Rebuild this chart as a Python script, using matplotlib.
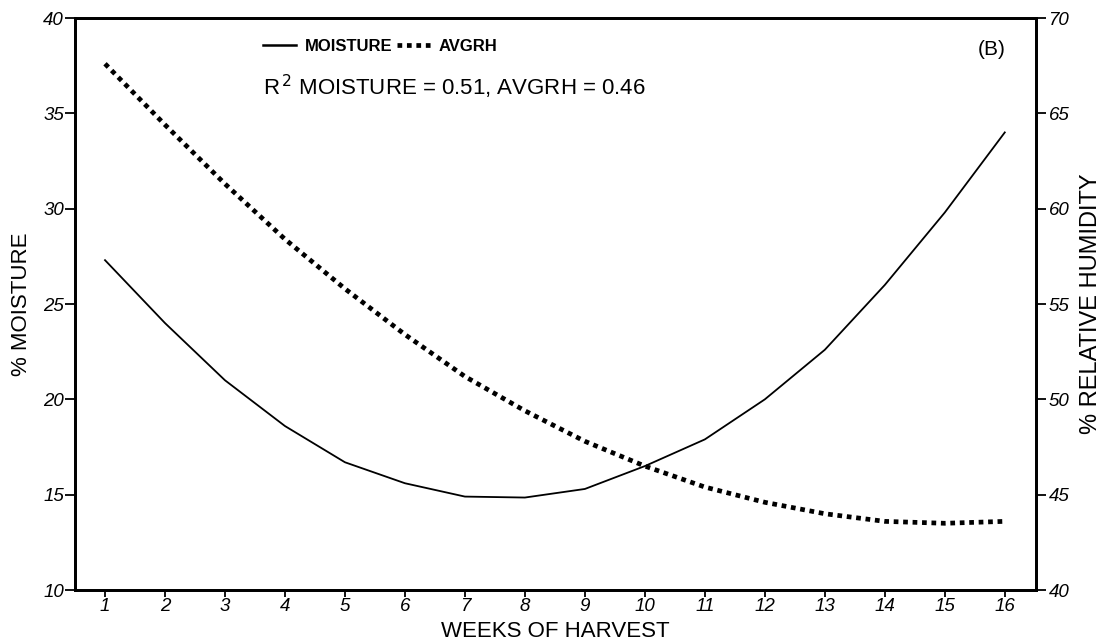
import matplotlib
matplotlib.use("Agg")
import matplotlib.pyplot as plt
from matplotlib.lines import Line2D

plt.rcParams["font.family"] = ["Liberation Sans", "DejaVu Sans"]

# ── Data ─────────────────────────────────────────────────────────────────────
weeks = list(range(1, 17))
moisture = [27.3, 24.0, 21.0, 18.6, 16.7, 15.6, 14.9, 14.85,
            15.3, 16.5, 17.9, 20.0, 22.6, 26.0, 29.8, 34.0]
avgrh = [67.6, 64.4, 61.3, 58.4, 55.8, 53.4, 51.2, 49.4,
         47.8, 46.5, 45.4, 44.6, 44.0, 43.6, 43.5, 43.6]
left_ticks = [10, 15, 20, 25, 30, 35, 40]
right_ticks = [40, 45, 50, 55, 60, 65, 70]

fig = plt.figure(figsize=(11.13, 6.43), dpi=100)
fig.patch.set_facecolor("white")
ax = fig.add_axes([0.0674, 0.0824, 0.8634, 0.8896])
ax2 = ax.twinx()

ax.plot(weeks, moisture, color="black", linewidth=1.3)
ax2.plot(weeks, avgrh, color="black", linewidth=3.4, linestyle=(0, (1, 1)))

ax.set_xlim(0.5, 16.52)
ax.set_ylim(10, 40)
ax2.set_ylim(40, 70)
ax.set_xticks(weeks)
ax.set_yticks(left_ticks)
ax2.set_yticks(right_ticks)

tick_font = dict(fontsize=13.5, fontstyle="italic")
ax.set_xticklabels([str(w) for w in weeks], **tick_font)
ax.set_yticklabels([str(t) for t in left_ticks], **tick_font)
ax2.set_yticklabels([str(t) for t in right_ticks], **tick_font)

ax.tick_params(axis="y", direction="out", length=7, width=1.3, pad=1)
ax.tick_params(axis="x", direction="out", length=5, width=1.3, pad=1)
ax2.tick_params(axis="y", direction="out", length=7, width=1.3, pad=2)

for a in (ax, ax2):
    for spine in a.spines.values():
        spine.set_linewidth(2)
        spine.set_color("black")

ax.set_xlabel("WEEKS OF HARVEST", fontsize=16, labelpad=4)
ax.set_ylabel("% MOISTURE", fontsize=16, labelpad=8)
ax2.set_ylabel("% RELATIVE HUMIDITY", fontsize=17, labelpad=8)

# ── Legend & annotations ─────────────────────────────────────────────────────
handles = [Line2D([], [], color="black", linewidth=1.8),
           Line2D([], [], color="black", linewidth=3.4, linestyle=(0, (1, 1)))]
leg = ax.legend(handles, ["MOISTURE", "AVGRH"], ncol=2, frameon=False,
                loc="upper left", bbox_to_anchor=(0.18, 0.99),
                prop=dict(size=12, weight="bold"), handlelength=2.0,
                handletextpad=0.5, columnspacing=0.3, borderaxespad=0.5)

ax.text(0.196, 0.88, r"R$^{\,2}$ MOISTURE = 0.51, AVGRH = 0.46",
        transform=ax.transAxes, fontsize=16, va="center", ha="left")
ax.text(0.968, 0.945, "(B)", transform=ax.transAxes, fontsize=15,
        va="center", ha="right")

fig.savefig("out.png", dpi=100, facecolor="white")
plt.close(fig)
